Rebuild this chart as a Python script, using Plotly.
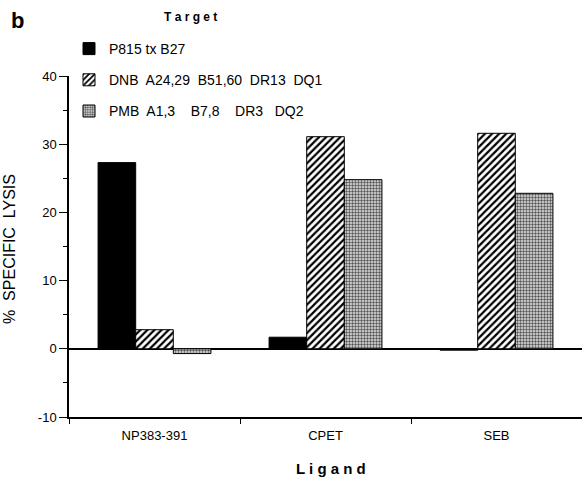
import plotly.graph_objects as go

ligands = ["NP383-391", "CPET", "SEB"]
series_names = ["P815 tx B27", "DNB  A24,29  B51,60  DR13  DQ1", "PMB  A1,3    B7,8    DR3   DQ2"]
p815 = [27.3, 1.7, -0.2]
dnb = [2.8, 31.1, 31.6]
pmb = [-0.7, 24.8, 22.8]
y_ticks = [-10, 0, 10, 20, 30, 40]
y_ticktext = ["-10", "0", "10", "20", "30", "40"]

FONT = "Liberation Sans, Arial, sans-serif"
L, T, B, H, W = 69, 76, 64, 481, 582
PW, PH = W - L, H - T - B

fig = go.Figure()
fig.add_trace(go.Bar(x=ligands, y=p815, name=series_names[0], legendgroup="a",
                     marker=dict(color="black", line=dict(color="black", width=1))))
fig.add_trace(go.Bar(x=ligands, y=dnb, name=series_names[1], legendgroup="b",
                     marker=dict(color="white", line=dict(color="black", width=1),
                                 pattern=dict(shape="/", fgcolor="black", bgcolor="white",
                                              size=5, solidity=0.45))))
fig.add_trace(go.Bar(x=ligands, y=pmb, name=series_names[2], legendgroup="c",
                     marker=dict(color="#bbbbbb", line=dict(color="black", width=1),
                                 pattern=dict(shape=".", fgcolor="#555555", bgcolor="#e4e4e4",
                                              size=3, solidity=0.5))))

fig.update_layout(
    template="none",
    width=W, height=H,
    margin=dict(l=L, r=0, t=T, b=B, autoexpand=False),
    paper_bgcolor="white", plot_bgcolor="white",
    barmode="group", bargap=0.34, bargroupgap=0,
    font=dict(family=FONT, size=13, color="black"),
    showlegend=True,
    legend=dict(xref="container", yref="container", x=L / W, xanchor="left",
                y=1 - 33 / H, yanchor="top",
                bgcolor="rgba(0,0,0,0)", tracegroupgap=10,
                font=dict(size=14)),
    xaxis=dict(showline=True, linecolor="black", linewidth=1.5, ticks="outside",
               tickson="boundaries", ticklen=5, tickcolor="black", automargin=False,
               ticklabelstandoff=6,
               range=[-0.5, 2.5], tickfont=dict(size=13), showgrid=False),
    yaxis=dict(range=[-10, 40], tickvals=y_ticks, ticktext=y_ticktext, showline=True,
               linecolor="black", automargin=False,
               linewidth=1.5, ticks="outside", ticklen=8, tickcolor="black",
               showgrid=False, zeroline=True, zerolinecolor="black", zerolinewidth=1.5,
               minor=dict(dtick=5, ticks="outside", ticklen=4, tickcolor="black", showgrid=False),
               tickfont=dict(size=13)),
)

fig.add_annotation(text="<b>T a r g e t</b>", xref="paper", yref="paper",
                   x=(190 - L) / PW, y=(H - B - 17) / PH, xanchor="center", yanchor="middle",
                   showarrow=False, font=dict(size=12))
fig.add_annotation(text="<b>L i g a n d</b>", xref="paper", yref="paper",
                   x=(331 - L) / PW, y=(H - B - 468) / PH, xanchor="center", yanchor="middle",
                   showarrow=False, font=dict(size=15))
fig.add_annotation(text="%  SPECIFIC  LYSIS", xref="paper", yref="paper",
                   x=(9 - L) / PW, y=(H - B - 249) / PH, xanchor="center", yanchor="middle",
                   textangle=-90, showarrow=False, font=dict(size=16))
fig.add_annotation(text="<b>b</b>", xref="paper", yref="paper",
                   x=(17 - L) / PW, y=(H - B - 21) / PH, xanchor="center", yanchor="middle",
                   showarrow=False, font=dict(size=22))

fig.write_html("out.html", config={"displayModeBar": False},
               post_script="document.body.style.margin='0';")
